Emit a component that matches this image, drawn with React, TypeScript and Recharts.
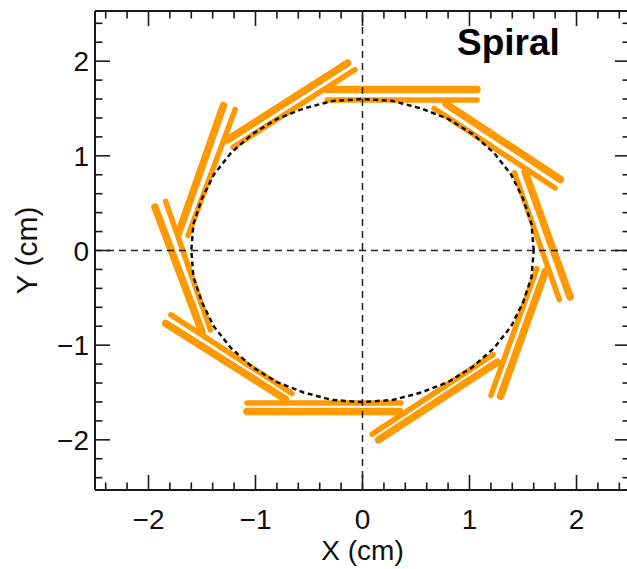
import React from 'react';
import { ComposedChart, Line, XAxis, YAxis, ReferenceLine } from 'recharts';

// tick positions (cm), majors every 1, minors every 0.2
const xTicks = [-2.4, -2.2, -2, -1.8, -1.6, -1.4, -1.2, -1, -0.8, -0.6, -0.4, -0.2, 0, 0.2, 0.4, 0.6, 0.8, 1, 1.2, 1.4, 1.6, 1.8, 2, 2.2, 2.4];
const yTicks = [-2.4, -2.2, -2, -1.8, -1.6, -1.4, -1.2, -1, -0.8, -0.6, -0.4, -0.2, 0, 0.2, 0.4, 0.6, 0.8, 1, 1.2, 1.4, 1.6, 1.8, 2, 2.2, 2.4];

// outer (thick) strip of each pair: [x1, y1, x2, y2] in cm
const outerStrips = [
  [-0.33, 1.7, 1.07, 1.7],
  [0.78, 1.55, 1.85, 0.75],
  [1.52, 0.83, 1.94, -0.49],
  [1.71, -0.22, 1.29, -1.54],
  [1.26, -1.18, 0.15, -2.0],
  [0.35, -1.7, -1.08, -1.7],
  [-0.72, -1.57, -1.84, -0.77],
  [-1.5, -0.86, -1.94, 0.46],
  [-1.72, 0.18, -1.3, 1.53],
  [-1.26, 1.17, -0.14, 1.98],
];

// inner (thin) strip of each pair
const innerStrips = [
  [-0.33, 1.59, 1.07, 1.59],
  [0.67, 1.5, 1.8, 0.66],
  [1.42, 0.82, 1.84, -0.52],
  [1.63, -0.19, 1.2, -1.53],
  [1.22, -1.1, 0.09, -1.94],
  [0.36, -1.61, -1.08, -1.61],
  [-0.66, -1.51, -1.79, -0.68],
  [-1.42, -0.84, -1.84, 0.52],
  [-1.63, 0.16, -1.19, 1.49],
  [-1.21, 1.09, -0.07, 1.91],
];

// dashed reference circle, r ~ 1.6 cm
const circlePoints = [
  [1.6, 0], [1.58, 0.28], [1.5, 0.55], [1.39, 0.8], [1.23, 1.03], [1.03, 1.23],
  [0.8, 1.39], [0.55, 1.5], [0.28, 1.58], [0, 1.6], [-0.28, 1.58], [-0.55, 1.5],
  [-0.8, 1.39], [-1.03, 1.23], [-1.23, 1.03], [-1.39, 0.8], [-1.5, 0.55], [-1.58, 0.28],
  [-1.6, 0], [-1.58, -0.28], [-1.5, -0.55], [-1.39, -0.8], [-1.23, -1.03], [-1.03, -1.23],
  [-0.8, -1.39], [-0.55, -1.5], [-0.28, -1.58], [0, -1.6], [0.28, -1.58], [0.55, -1.5],
  [0.8, -1.39], [1.03, -1.23], [1.23, -1.03], [1.39, -0.8], [1.5, -0.55], [1.58, -0.28],
  [1.6, 0],
];

const FONT = "'Liberation Sans', Arial, Helvetica, sans-serif";
const ORANGE = '#ff9900';
const INK = '#1a1a1a';
const MAJOR = 15;
const MINOR = 7.5;

const isMajor = (v: number) => Math.abs(v - Math.round(v)) < 1e-6;
const fmt = (v: number) => (v < 0 ? '\u2212' + Math.abs(v) : String(v));

const toLine = (s: number[]) => [
  { x: s[0], y: s[1] },
  { x: s[2], y: s[3] },
];

const BottomTick = (props: any) => {
  const { x, y, payload } = props;
  const major = isMajor(payload.value);
  return (
    <g>
      <line x1={x} y1={y} x2={x} y2={y - (major ? MAJOR : MINOR)} stroke={INK} strokeWidth={1.6} />
      {major && (
        <text x={x} y={y + 39} textAnchor="middle" fontSize={28} fontFamily={FONT} fill="#111">
          {fmt(payload.value)}
        </text>
      )}
    </g>
  );
};

const TopTick = (props: any) => {
  const { x, y, payload } = props;
  const major = isMajor(payload.value);
  return <line x1={x} y1={y} x2={x} y2={y + (major ? MAJOR : MINOR)} stroke={INK} strokeWidth={1.6} />;
};

const LeftTick = (props: any) => {
  const { x, y, payload } = props;
  const major = isMajor(payload.value);
  return (
    <g>
      <line x1={x} y1={y} x2={x + (major ? MAJOR : MINOR)} y2={y} stroke={INK} strokeWidth={1.6} />
      {major && (
        <text x={x - 6} y={y + 10} textAnchor="end" fontSize={28} fontFamily={FONT} fill="#111">
          {fmt(payload.value)}
        </text>
      )}
    </g>
  );
};

const RightTick = (props: any) => {
  const { x, y, payload } = props;
  const major = isMajor(payload.value);
  return <line x1={x} y1={y} x2={x - (major ? MAJOR : MINOR)} y2={y} stroke={INK} strokeWidth={1.6} />;
};

export default function App() {
  const circleData = circlePoints.map((p) => ({ x: p[0], y: p[1] }));
  const frame = { stroke: INK, strokeWidth: 2 };

  return (
    <div style={{ position: 'absolute', left: 0, top: 0, width: 627, height: 569, overflow: 'hidden', background: '#fff' }}>
      <ComposedChart width={632} height={569} margin={{ top: 0, right: 0, bottom: 0, left: 0 }}>
        <XAxis
          xAxisId="b"
          type="number"
          dataKey="x"
          orientation="bottom"
          domain={[-2.5, 2.5]}
          allowDataOverflow
          ticks={xTicks}
          interval={0}
          height={79}
          tickSize={0}
          tickMargin={0}
          tickLine={false}
          axisLine={frame}
          tick={BottomTick}
          label={{ value: 'X (cm)', position: 'insideBottom', offset: 9, fontSize: 28, fontFamily: FONT, fill: '#111' }}
        />
        <XAxis
          xAxisId="t"
          type="number"
          dataKey="x"
          orientation="top"
          domain={[-2.5, 2.5]}
          allowDataOverflow
          ticks={xTicks}
          interval={0}
          height={11}
          tickSize={0}
          tickMargin={0}
          tickLine={false}
          axisLine={frame}
          tick={TopTick}
        />
        <YAxis
          yAxisId="l"
          type="number"
          dataKey="y"
          orientation="left"
          domain={[-2.53, 2.53]}
          allowDataOverflow
          ticks={yTicks}
          interval={0}
          width={95}
          tickSize={0}
          tickMargin={0}
          tickLine={false}
          axisLine={frame}
          tick={LeftTick}
          label={{
            value: 'Y (cm)',
            angle: -90,
            position: 'insideLeft',
            offset: 26,
            fontSize: 30,
            fontFamily: FONT,
            fill: '#111',
            style: { textAnchor: 'middle' },
          }}
        />
        <YAxis
          yAxisId="r"
          type="number"
          dataKey="y"
          orientation="right"
          domain={[-2.53, 2.53]}
          allowDataOverflow
          ticks={yTicks}
          interval={0}
          width={2}
          tickSize={0}
          tickMargin={0}
          tickLine={false}
          axisLine={frame}
          tick={RightTick}
        />

        {outerStrips.map((s, i) => (
          <Line
            key={`outer-${i}`}
            xAxisId="b"
            yAxisId="l"
            data={toLine(s)}
            dataKey="y"
            type="linear"
            stroke={ORANGE}
            strokeWidth={7.5}
            strokeLinecap="round"
            dot={false}
            activeDot={false}
            isAnimationActive={false}
          />
        ))}
        {innerStrips.map((s, i) => (
          <Line
            key={`inner-${i}`}
            xAxisId="b"
            yAxisId="l"
            data={toLine(s)}
            dataKey="y"
            type="linear"
            stroke={ORANGE}
            strokeWidth={5.5}
            strokeLinecap="round"
            dot={false}
            activeDot={false}
            isAnimationActive={false}
          />
        ))}

        <ReferenceLine xAxisId="b" yAxisId="l" x={0} stroke="#222" strokeWidth={1.5} strokeDasharray="7 5" />
        <ReferenceLine xAxisId="b" yAxisId="l" y={0} stroke="#222" strokeWidth={1.5} strokeDasharray="7 5" />

        <Line
          xAxisId="t"
          yAxisId="r"
          data={circleData}
          dataKey="y"
          type="linear"
          stroke="#111"
          strokeWidth={2.5}
          strokeDasharray="5 3.5"
          dot={false}
          activeDot={false}
          isAnimationActive={false}
        />
      </ComposedChart>
      <svg width={627} height={569} style={{ position: 'absolute', left: 0, top: 0, pointerEvents: 'none' }}>
        <text x={457} y={55} fontSize={37} fontWeight="bold" fontFamily={FONT} fill="#000">
          Spiral
        </text>
      </svg>
    </div>
  );
}
